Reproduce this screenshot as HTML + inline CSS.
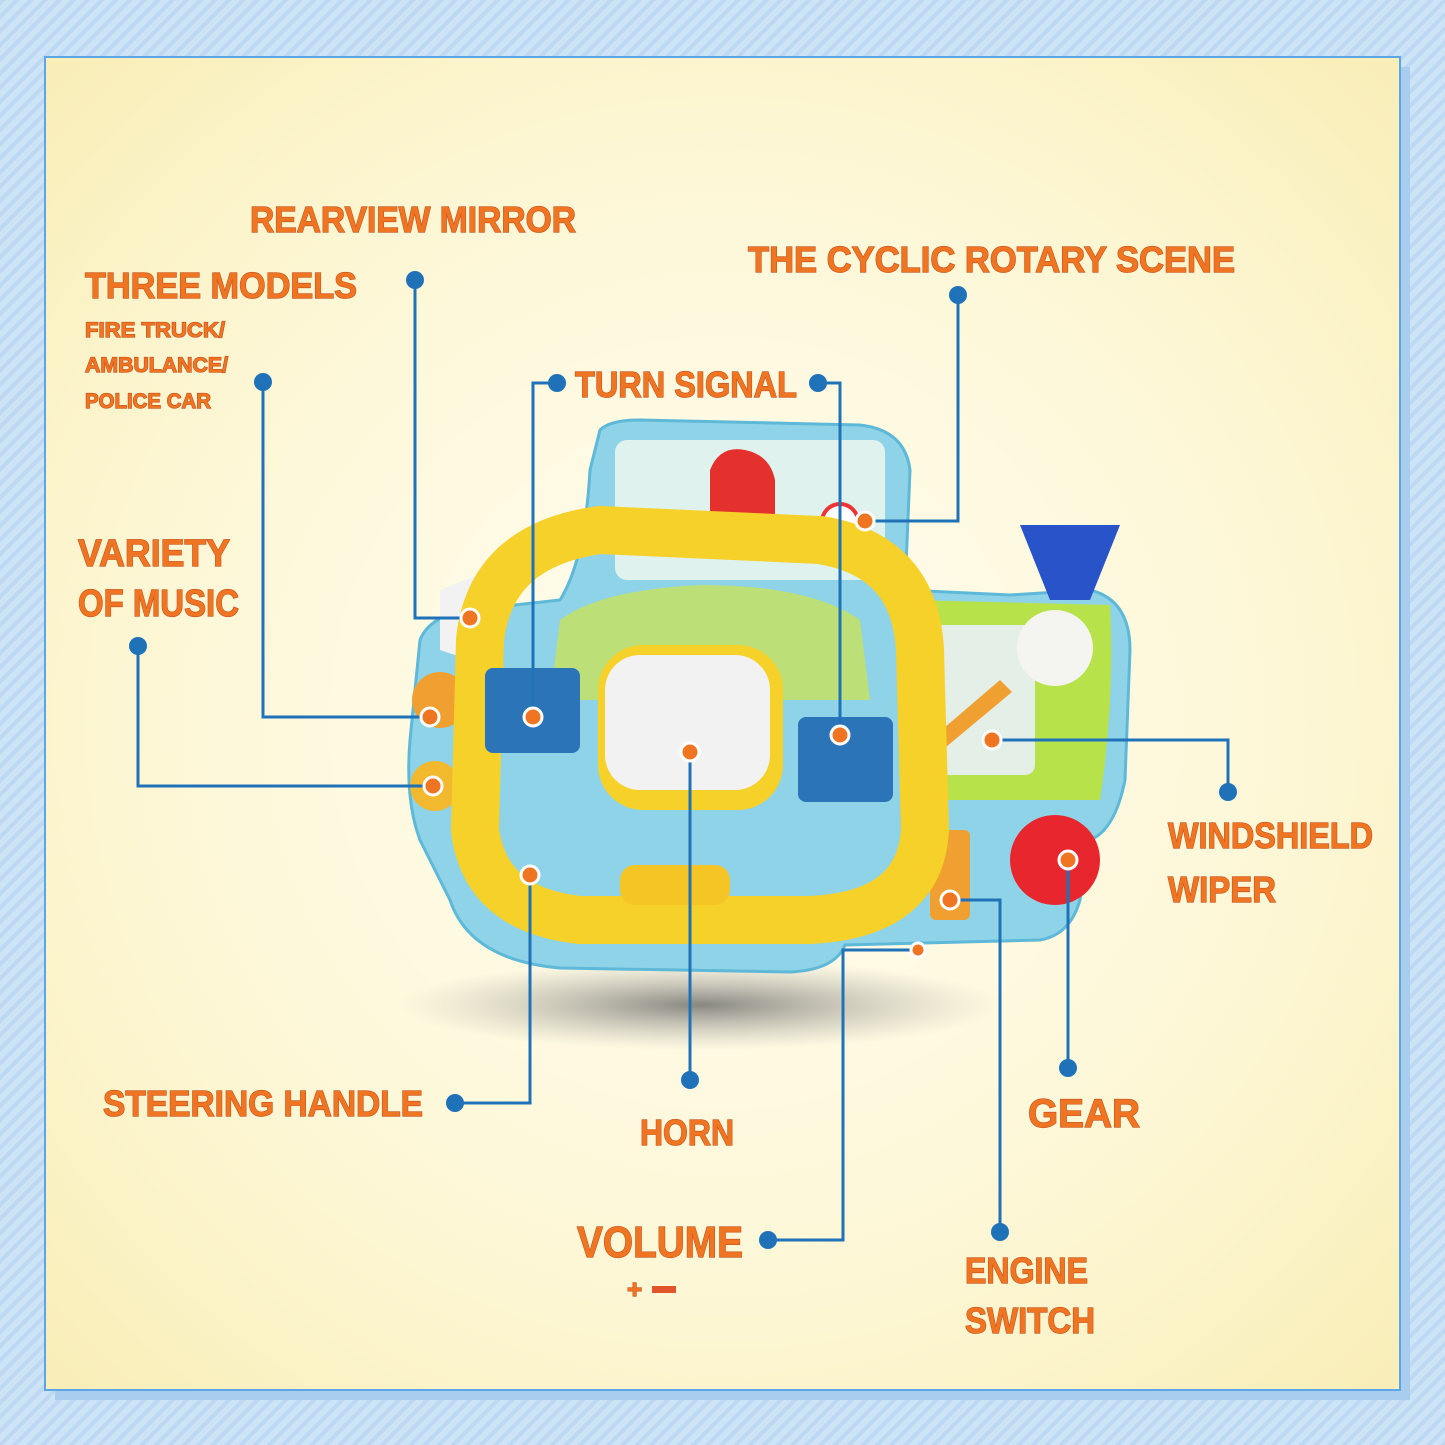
<!DOCTYPE html>
<html><head><meta charset="utf-8"><style>
html,body{margin:0;padding:0;width:1445px;height:1445px;overflow:hidden;background:#cfe4f6}
svg{display:block}
text{font-family:"Liberation Sans",sans-serif;font-weight:bold;fill:#f07522;stroke:#c4501a;stroke-width:1.2;paint-order:stroke}
</style></head><body>
<svg width="1445" height="1445" viewBox="0 0 1445 1445" xmlns="http://www.w3.org/2000/svg">
<defs>
<pattern id="st" width="10" height="10" patternUnits="userSpaceOnUse" patternTransform="rotate(45)">
<rect width="10" height="10" fill="#cde3f6"/><rect width="4" height="10" fill="#bcd8f2"/></pattern>
<radialGradient id="bg" cx="50%" cy="50%" r="70%">
<stop offset="0" stop-color="#fffdf2"/><stop offset="0.6" stop-color="#fdf7d6"/><stop offset="1" stop-color="#f9eeb8"/></radialGradient>
<radialGradient id="sh" cx="50%" cy="50%" r="50%"><stop offset="0" stop-color="#555" stop-opacity="0.7"/><stop offset="1" stop-color="#999" stop-opacity="0"/></radialGradient>
</defs>
<rect width="1445" height="1445" fill="url(#st)"/>
<rect x="55" y="67" width="1355" height="1333" fill="#a9cdef"/>
<rect x="45" y="57" width="1355" height="1333" fill="url(#bg)" stroke="#5aa6e6" stroke-width="2"/>

<!-- shadow -->
<ellipse cx="700" cy="1005" rx="300" ry="45" fill="url(#sh)"/>

<!-- toy body -->
<path d="M600 430 Q610 420 640 420 L860 425 Q905 430 910 470 L905 590 L1010 595 L1090 590 Q1130 600 1130 650 L1125 780 Q1115 830 1090 840 L1080 900 Q1070 935 1040 940 L845 945 Q835 970 790 972 L560 968 Q470 960 450 900 L420 840 Q405 800 410 740 L420 640 Q430 615 470 610 L560 600 Q585 560 590 470 Z" fill="#8fd3e8" stroke="#5eb8d8" stroke-width="3"/>
<rect x="615" y="440" width="270" height="140" rx="12" fill="#dff2ee"/>
<path d="M710 470 Q720 445 745 450 Q770 455 775 480 L775 525 L710 525 Z" fill="#e5312d"/>
<circle cx="840" cy="522" r="18" fill="#fff" stroke="#e33" stroke-width="4"/>
<path d="M910 600 L1110 605 Q1115 700 1100 800 L915 800 Z" fill="#b8e24a"/>
<rect x="925" y="625" width="110" height="150" rx="10" fill="#e4efe8"/>
<path d="M1020 525 L1120 525 L1090 600 L1050 600 Z" fill="#2953c9"/>
<circle cx="1055" cy="648" r="38" fill="#f4f4f0"/>
<circle cx="1055" cy="860" r="45" fill="#e8262d"/>
<rect x="930" y="830" width="40" height="90" rx="6" fill="#f0a030"/>
<path d="M930 740 L1000 680 L1012 692 L940 752 Z" fill="#f0a030"/>
<circle cx="440" cy="700" r="28" fill="#f0a030"/>
<circle cx="435" cy="786" r="25" fill="#f2b92e"/>
<path d="M440 590 L490 570 L505 600 L470 660 L440 650 Z" fill="#f2f2f2"/>

<!-- steering wheel -->
<path d="M480 640 Q490 545 600 530 L820 540 Q915 555 920 650 L925 830 Q920 915 810 920 L580 920 Q485 910 475 830 Z" fill="none" stroke="#f6d12a" stroke-width="48"/>
<path d="M560 620 Q600 590 700 585 Q810 585 860 620 L870 700 L550 700 Z" fill="#c7e25a" opacity="0.8"/>
<rect x="598" y="645" width="185" height="165" rx="45" fill="#f6d12a"/>
<rect x="605" y="655" width="165" height="135" rx="35" fill="#f2f2f2"/>
<rect x="485" y="668" width="95" height="85" rx="8" fill="#2c74b8"/>
<rect x="798" y="717" width="95" height="85" rx="8" fill="#2c74b8"/>
<rect x="620" y="865" width="110" height="40" rx="15" fill="#f5c425"/>

<!-- connectors -->
<g fill="none" stroke="#1f72b8" stroke-width="3">
<polyline points="415,280 415,618 470,618"/>
<polyline points="263,382 263,717 430,717"/>
<polyline points="138,646 138,786 433,786"/>
<polyline points="557,383 533,383 533,717"/>
<polyline points="818,383 840,383 840,735"/>
<polyline points="958,295 958,521 865,521"/>
<polyline points="992,740 1228,740 1228,792"/>
<polyline points="1068,860 1068,1068"/>
<polyline points="950,900 1000,900 1000,1232"/>
<polyline points="918,950 843,950 843,1240 768,1240"/>
<polyline points="690,752 690,1080"/>
<polyline points="530,875 530,1103 455,1103"/>
</g>
<g fill="#1f72b8">
<circle cx="415" cy="280" r="9"/><circle cx="263" cy="382" r="9"/><circle cx="138" cy="646" r="9"/>
<circle cx="557" cy="383" r="9"/><circle cx="818" cy="383" r="9"/><circle cx="958" cy="295" r="9"/>
<circle cx="1228" cy="792" r="9"/><circle cx="1068" cy="1068" r="9"/><circle cx="1000" cy="1232" r="9"/>
<circle cx="768" cy="1240" r="9"/><circle cx="690" cy="1080" r="9"/><circle cx="455" cy="1103" r="9"/>
</g>
<g fill="#f07522" stroke="#fff" stroke-width="3">
<circle cx="470" cy="618" r="9"/><circle cx="430" cy="717" r="9"/><circle cx="433" cy="786" r="9"/>
<circle cx="533" cy="717" r="9"/><circle cx="840" cy="735" r="9"/><circle cx="865" cy="521" r="9"/>
<circle cx="992" cy="740" r="9"/><circle cx="1068" cy="860" r="9"/><circle cx="950" cy="900" r="9"/>
<circle cx="918" cy="950" r="7"/><circle cx="690" cy="752" r="9"/><circle cx="530" cy="875" r="9"/>
</g>

<!-- labels -->
<text x="250" y="232" font-size="36" textLength="326" lengthAdjust="spacingAndGlyphs">REARVIEW MIRROR</text>
<text x="85" y="298" font-size="36" textLength="272" lengthAdjust="spacingAndGlyphs">THREE MODELS</text>
<text x="85" y="337" font-size="21" textLength="140" lengthAdjust="spacingAndGlyphs">FIRE TRUCK/</text>
<text x="85" y="372" font-size="21" textLength="143" lengthAdjust="spacingAndGlyphs">AMBULANCE/</text>
<text x="85" y="408" font-size="21" textLength="126" lengthAdjust="spacingAndGlyphs">POLICE CAR</text>
<text x="748" y="272" font-size="36" textLength="487" lengthAdjust="spacingAndGlyphs">THE CYCLIC ROTARY SCENE</text>
<text x="575" y="397" font-size="36" textLength="222" lengthAdjust="spacingAndGlyphs">TURN SIGNAL</text>
<text x="78" y="566" font-size="38" textLength="152" lengthAdjust="spacingAndGlyphs">VARIETY</text>
<text x="78" y="616" font-size="38" textLength="161" lengthAdjust="spacingAndGlyphs">OF MUSIC</text>
<text x="1168" y="848" font-size="36" textLength="205" lengthAdjust="spacingAndGlyphs">WINDSHIELD</text>
<text x="1168" y="902" font-size="36" textLength="108" lengthAdjust="spacingAndGlyphs">WIPER</text>
<text x="103" y="1116" font-size="36" textLength="320" lengthAdjust="spacingAndGlyphs">STEERING HANDLE</text>
<text x="640" y="1145" font-size="36" textLength="94" lengthAdjust="spacingAndGlyphs">HORN</text>
<text x="1028" y="1127" font-size="40" textLength="112" lengthAdjust="spacingAndGlyphs">GEAR</text>
<text x="577" y="1257" font-size="44" textLength="166" lengthAdjust="spacingAndGlyphs">VOLUME</text>
<text x="627" y="1298" font-size="26">+</text><rect x="652" y="1286" width="24" height="7" fill="#e0552a"/>
<text x="965" y="1283" font-size="36" textLength="123" lengthAdjust="spacingAndGlyphs">ENGINE</text>
<text x="965" y="1333" font-size="36" textLength="130" lengthAdjust="spacingAndGlyphs">SWITCH</text>
</svg>
</body></html>
